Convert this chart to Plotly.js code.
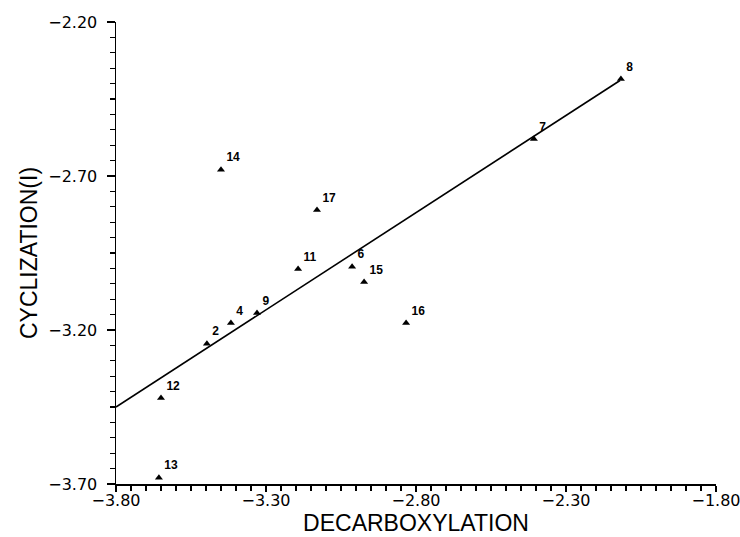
<!DOCTYPE html>
<html>
<head>
<meta charset="utf-8">
<script src="https://cdn.plot.ly/plotly-3.0.1.min.js"></script>
<style>html,body{margin:0;padding:0;background:#fff;}#chart{width:740px;height:537px;}</style>
</head>
<body>
<div id="chart"></div>
<script>
// Compound labels
const labels = ["2", "4", "6", "7", "8", "9", "11", "12", "13", "14", "15", "16", "17"];
// Decarboxylation (x)
const decarboxylation = [-3.497, -3.417, -3.013, -2.407, -2.117, -3.330, -3.193, -3.650, -3.657, -3.450, -2.973, -2.833, -3.130];
// Cyclization(I) (y)
const cyclization = [-3.245, -3.177, -2.995, -2.580, -2.385, -3.145, -3.002, -3.421, -3.680, -2.680, -3.044, -3.177, -2.810];
// Regression line end points
const fitX = [-3.80, -2.12];
const fitY = [-3.45, -2.39];
// Axis ranges / tick steps
const xRange = [-3.80, -1.80];
const yRange = [-3.70, -2.20];
const majorStep = 0.5;
const minorStep = 0.05;

const tickFont = {family: "DejaVu Sans", size: 16, color: "#000"};
const titleFamily = "Liberation Sans";

const traces = [
  {
    x: fitX, y: fitY, type: "scatter", mode: "lines",
    line: {color: "#000", width: 1.6}, hoverinfo: "skip", showlegend: false
  },
  {
    x: decarboxylation, y: cyclization, text: labels, type: "scatter", mode: "markers+text",
    marker: {symbol: "triangle-up", size: 7, color: "#000"},
    textposition: "top right",
    textfont: {family: "Liberation Sans", size: 12, color: "#000", weight: "bold"},
    showlegend: false
  }
];

function minorTicks(start) {
  return {tickmode: "linear", tick0: start, dtick: minorStep, ticks: "outside", ticklen: 5, tickwidth: 1.3, tickcolor: "#000", showgrid: false};
}

const layout = {
  width: 740, height: 537,
  margin: {l: 116, r: 24, t: 22, b: 53},
  paper_bgcolor: "#fff", plot_bgcolor: "#fff",
  showlegend: false,
  xaxis: {
    range: xRange, tickmode: "linear", tick0: xRange[0], dtick: majorStep, tickformat: ".2f",
    showgrid: false, zeroline: false, showline: true, linecolor: "#000", linewidth: 1.5,
    ticks: "outside", ticklen: 6, tickwidth: 1.5, tickcolor: "#000",
    minor: minorTicks(xRange[0]),
    tickfont: tickFont, ticklabelstandoff: -5, ticklabeloverflow: "allow",
    title: {text: "DECARBOXYLATION", font: {family: titleFamily, size: 23, color: "#000"}, standoff: 6}
  },
  yaxis: {
    range: yRange, tickmode: "linear", tick0: yRange[0], dtick: majorStep, tickformat: ".2f",
    showgrid: false, zeroline: false, showline: true, linecolor: "#000", linewidth: 1.5,
    ticks: "outside", ticklen: 8, tickwidth: 1.5, tickcolor: "#000",
    minor: minorTicks(yRange[0]),
    tickfont: tickFont, ticklabelstandoff: 6, ticklabeloverflow: "allow",
    title: {text: "CYCLIZATION(I)", font: {family: titleFamily, size: 23, color: "#000"}, standoff: 4}
  }
};

Plotly.newPlot("chart", traces, layout, {displayModeBar: false, staticPlot: true});
</script>
</body>
</html>
